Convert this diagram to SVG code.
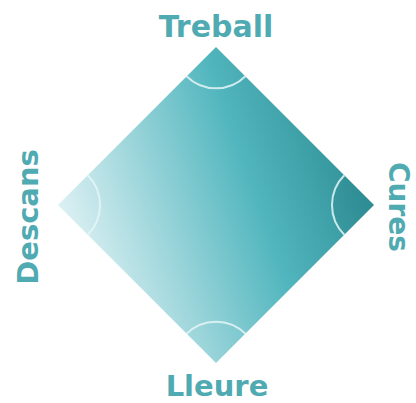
<svg xmlns="http://www.w3.org/2000/svg" width="416" height="403" viewBox="0 0 416 403">
<style>
.lbl{font-family:"DejaVu Sans","Liberation Sans",sans-serif;font-weight:bold;font-size:29px;fill:#50aab1;text-anchor:middle}
.arc{fill:none;stroke:#e4f6f7;stroke-width:2;stroke-opacity:0.85}
</style>
<defs>
<linearGradient id="g" gradientUnits="userSpaceOnUse" x1="58" y1="262" x2="374" y2="150">
<stop offset="0" stop-color="#eaf6f8"/>
<stop offset="0.3" stop-color="#a2d8dd"/>
<stop offset="0.62" stop-color="#52b6be"/>
<stop offset="1" stop-color="#2a8a91"/>
</linearGradient>
</defs>
<rect width="416" height="403" fill="#ffffff"/>
<g id="diamond">
<path d="M216,47 L374,205 L216,363 L58,205 Z" fill="url(#g)"/>
<path d="M344.3,175.3 A42,42 0 0 0 344.3,234.7 L374,205 Z" fill="#1f6f75" fill-opacity="0.12"/>
</g>
<g id="corners">
<path d="M186.3,76 A42,42 0 0 0 245.7,76" class="arc"/>
<path d="M344.3,175.3 A42,42 0 0 0 344.3,234.7" class="arc"/>
<path d="M186.3,334 A42,42 0 0 1 245.7,334" class="arc"/>
<path d="M87.7,175.3 A42,42 0 0 1 87.7,234.7" class="arc"/>
</g>
<g id="treball"><text class="lbl" x="216" y="37" style="font-size:30px">Treball</text></g>
<g id="cures"><text class="lbl" transform="translate(389,207) rotate(90)" style="font-size:28px">Cures</text></g>
<g id="lleure"><text class="lbl" x="217" y="396">Lleure</text></g>
<g id="descans"><text class="lbl" transform="translate(38,217) rotate(-90)">Descans</text></g>
</svg>
